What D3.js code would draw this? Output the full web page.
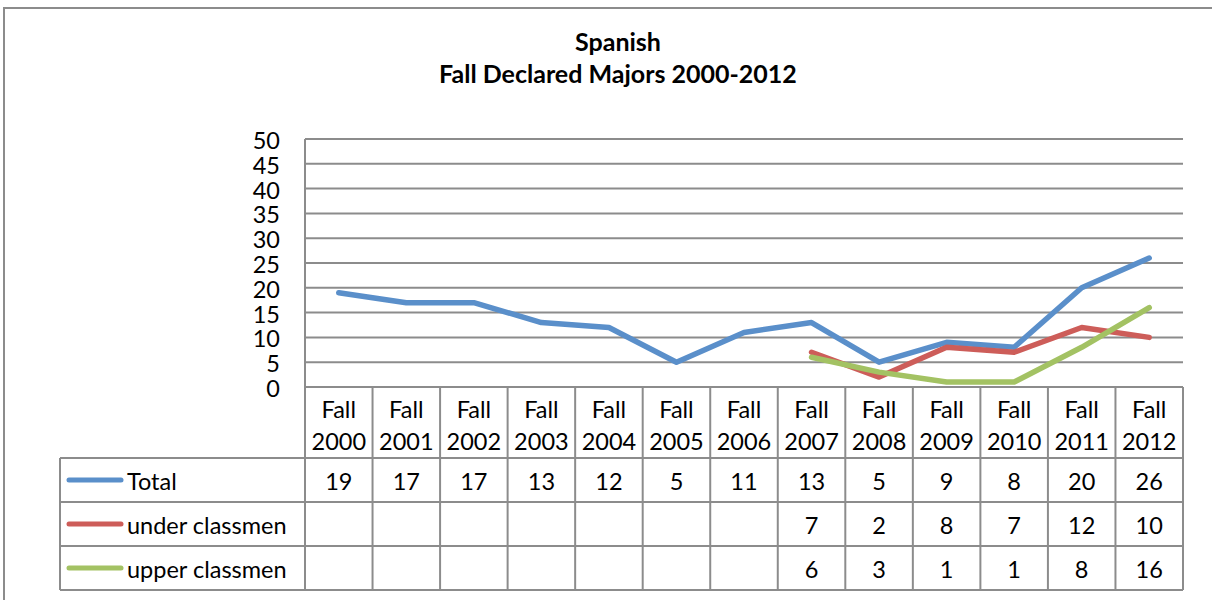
<!DOCTYPE html>
<html>
<head>
<meta charset="utf-8">
<script src="https://cdn.jsdelivr.net/npm/d3@7"></script>
<style>
  body { margin: 0; background: #fff; }
  text { font-family: Lato, "Open Sans", sans-serif; fill: #000; }
</style>
</head>
<body>
<svg id="chart"></svg>
<script>
// data
var categories = ["Fall 2000","Fall 2001","Fall 2002","Fall 2003","Fall 2004","Fall 2005","Fall 2006",
                  "Fall 2007","Fall 2008","Fall 2009","Fall 2010","Fall 2011","Fall 2012"];
var total = [19,17,17,13,12,5,11,13,5,9,8,20,26];
var underClassmen = [null,null,null,null,null,null,null,7,2,8,7,12,10];
var upperClassmen = [null,null,null,null,null,null,null,6,3,1,1,8,16];
var seriesNames = ["Total","under classmen","upper classmen"];
var seriesColors = ["#5A8FCA","#CD5D59","#A3C263"];
var yTicks = [0,5,10,15,20,25,30,35,40,45,50];
var titleLines = ["Spanish","Fall Declared Majors 2000-2012"];

var width = 1212, height = 600;
var plot = {left: 305, right: 1183, top: 139, bottom: 387};
var rowBottoms = [458, 502, 546, 590];
var tableLeft = 60;
var gridColor = "#8c8c8c", fs = 23.5;

var series = [total, underClassmen, upperClassmen].map((v, i) => ({
  name: seriesNames[i], color: seriesColors[i], values: v
}));

var svg = d3.select("#chart").attr("width", width).attr("height", height);

// outer chart border
svg.append("rect").attr("x", 4).attr("y", 8).attr("width", 1220).attr("height", 620)
  .attr("fill", "none").attr("stroke", gridColor).attr("stroke-width", 2);

// title
svg.append("g").selectAll("text").data(titleLines).join("text")
  .attr("x", 618).attr("y", (d, i) => 51 + i * 32)
  .attr("text-anchor", "middle").attr("font-weight", "bold").attr("font-size", 25)
  .text(d => d);

var x = d3.scaleBand().domain(categories).range([plot.left, plot.right]);
var y = d3.scaleLinear().domain([0, 50]).range([plot.bottom, plot.top]);

// gridlines
svg.append("g").selectAll("line").data(yTicks).join("line")
  .attr("x1", plot.left).attr("x2", plot.right)
  .attr("y1", d => y(d)).attr("y2", d => y(d))
  .attr("stroke", gridColor).attr("stroke-width", 2);
svg.append("line").attr("x1", plot.left).attr("x2", plot.left)
  .attr("y1", plot.top).attr("y2", plot.bottom)
  .attr("stroke", gridColor).attr("stroke-width", 2);

// y axis labels (tightly stacked, like the original)
var yAxis = d3.axisLeft(y).tickValues(yTicks).tickSize(0).tickPadding(0);
svg.append("g").attr("transform", `translate(${plot.left - 25},2)`).call(yAxis)
  .call(g => g.select(".domain").remove())
  .selectAll(".tick text").attr("font-size", fs).attr("fill", "#000")
  .attr("font-family", "Lato, sans-serif");

// lines
var line = d3.line()
  .defined(d => d != null)
  .x((d, i) => x(categories[i]) + x.bandwidth() / 2)
  .y(d => y(d));
svg.append("g").selectAll("path").data(series).join("path")
  .attr("d", d => line(d.values))
  .attr("fill", "none").attr("stroke", d => d.color).attr("stroke-width", 5.5)
  .attr("stroke-linejoin", "round").attr("stroke-linecap", "round");

// data table
var table = svg.append("g");
var gridStroke = g => g.attr("stroke", gridColor).attr("stroke-width", 2);
// horizontal rules
table.selectAll("line.h").data(rowBottoms).join("line").attr("class", "h")
  .attr("x1", tableLeft).attr("x2", plot.right)
  .attr("y1", d => d).attr("y2", d => d).call(gridStroke);
// left edge of legend column
table.append("line").attr("x1", tableLeft).attr("x2", tableLeft)
  .attr("y1", rowBottoms[0]).attr("y2", rowBottoms[3]).call(gridStroke);
// vertical separators
var vx = categories.map(c => x(c)).concat([plot.right]);
table.selectAll("line.v").data(vx).join("line").attr("class", "v")
  .attr("x1", d => d).attr("x2", d => d)
  .attr("y1", plot.bottom).attr("y2", rowBottoms[3]).call(gridStroke);

// category headers
var hdr = table.selectAll("text.cat").data(categories).join("text").attr("class", "cat")
  .attr("text-anchor", "middle").attr("font-size", fs)
  .attr("transform", d => `translate(${x(d) + x.bandwidth() / 2},0)`);
hdr.append("tspan").attr("x", 0).attr("y", 418).text(d => d.split(" ")[0]);
hdr.append("tspan").attr("x", 0).attr("y", 450).text(d => d.split(" ")[1]);

// rows
series.forEach((s, r) => {
  var cy = (rowBottoms[r] + rowBottoms[r + 1]) / 2;
  table.append("line").attr("x1", 69).attr("x2", 121).attr("y1", cy).attr("y2", cy)
    .attr("stroke", s.color).attr("stroke-width", 5).attr("stroke-linecap", "round");
  table.append("text").attr("x", 127).attr("y", cy + 10).attr("font-size", fs).text(s.name);
  table.selectAll("text.r" + r).data(s.values).join("text").attr("class", "r" + r)
    .attr("x", (d, i) => x(categories[i]) + x.bandwidth() / 2).attr("y", cy + 10)
    .attr("text-anchor", "middle").attr("font-size", fs)
    .text(d => d == null ? "" : d);
});
</script>
</body>
</html>
